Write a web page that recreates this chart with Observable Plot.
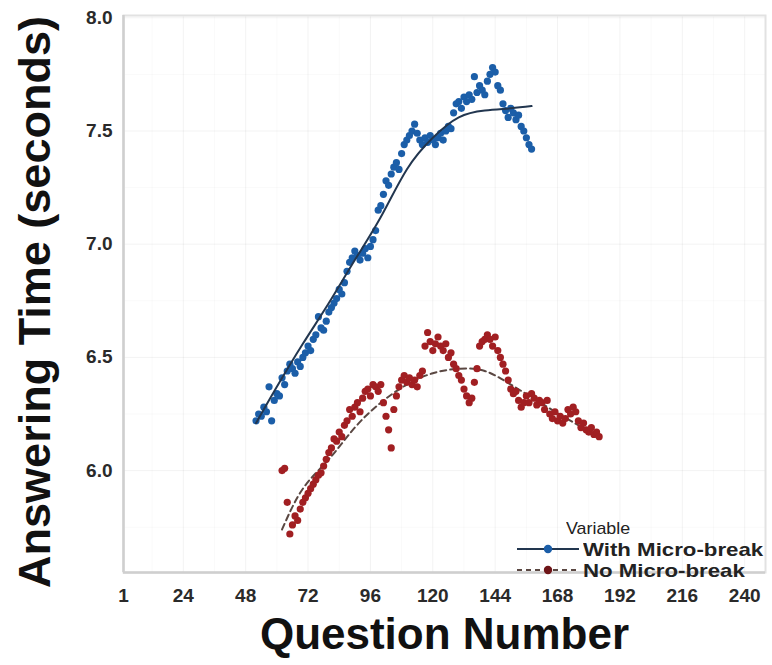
<!DOCTYPE html>
<html>
<head>
<meta charset="utf-8">
<script src="https://cdn.jsdelivr.net/npm/d3@7"></script>
<script src="https://cdn.jsdelivr.net/npm/@observablehq/plot@0.6"></script>
<style>
  body { margin: 0; background: #fff; font-family: "Liberation Sans", Arial, sans-serif; }
  #wrap { position: relative; width: 772px; height: 665px; }
  #legend { position: absolute; left: 0; top: 0; width: 772px; height: 665px; pointer-events: none; }
  #legend .t { position: absolute; color: #222; white-space: nowrap; line-height: 1; transform-origin: 0 50%; }
  #legend svg { position: absolute; overflow: visible; }
</style>
</head>
<body>
<div id="wrap">
  <div id="chart"></div>
  <div id="legend"></div>
</div>
<script>
// Mean answering time per question, first question index of each series
const seriesNames = ["With Micro-break", "No Micro-break"];
const seriesColors = ["#1b5ea8", "#a11f22"];
const fitColors = ["#22364f", "#5a4742"];

const withBreakStart = 52;
const withBreak = [
  6.22, 6.25, 6.24, 6.28, 6.26, 6.37, 6.22, 6.31, 6.34, 6.33,
  6.41, 6.38, 6.44, 6.47, 6.45, 6.43, 6.48, 6.46, 6.50, 6.52,
  6.55, 6.53, 6.58, 6.60, 6.68, 6.63, 6.62, 6.66, 6.70, 6.72,
  6.74, 6.76, 6.80, 6.78, 6.83, 6.88, 6.92, 6.94, 6.97, 6.95,
  6.93, 6.96, 6.98, 6.94, 6.99, 7.02, 7.06, 7.15, 7.17, 7.22,
  7.28, 7.26, 7.31, 7.34, 7.36, 7.33, 7.40, 7.44, 7.46, 7.48,
  7.50, 7.53, 7.49, 7.46, 7.44, 7.47, 7.45, 7.48, 7.46, 7.44,
  7.47, 7.49, 7.46, 7.50, 7.52, 7.51, 7.58, 7.62, 7.63, 7.60,
  7.65, 7.63, 7.66, 7.64, 7.74, 7.67, 7.70, 7.68, 7.66, 7.72,
  7.75, 7.78, 7.76, 7.70, 7.68, 7.62, 7.59, 7.56, 7.60, 7.58,
  7.55, 7.57, 7.52, 7.50, 7.47, 7.44, 7.42
];

const noBreakStart = 62;
const noBreak = [
  6.00, 6.01, 5.86, 5.72, 5.76, 5.80, 5.78, 5.83, 5.86, 5.88,
  5.90, 5.92, 5.94, 5.96, 5.98, 5.99, 6.02, 6.05, 6.08, 6.10,
  6.14, 6.13, 6.17, 6.15, 6.20, 6.22, 6.27, 6.24, 6.28, 6.30,
  6.26, 6.32, 6.35, 6.36, 6.33, 6.38, 6.37, 6.35, 6.38, 6.30,
  6.24, 6.18, 6.10, 6.27, 6.33, 6.37, 6.40, 6.42, 6.39, 6.41,
  6.38, 6.40, 6.37, 6.42, 6.44, 6.55, 6.61, 6.57, 6.53, 6.56,
  6.59, 6.55, 6.53, 6.56, 6.50, 6.52, 6.47, 6.45, 6.42, 6.40,
  6.36, 6.33, 6.30, 6.32, 6.39, 6.45, 6.55, 6.57, 6.58, 6.60,
  6.58, 6.55, 6.59, 6.53, 6.50, 6.47, 6.44, 6.40, 6.36, 6.34,
  6.35, 6.31, 6.28, 6.30, 6.33, 6.30, 6.34, 6.32, 6.29, 6.31,
  6.30, 6.27, 6.31, 6.25, 6.23, 6.26, 6.22, 6.24, 6.21, 6.23,
  6.27, 6.25, 6.28, 6.26, 6.22, 6.19, 6.21, 6.18, 6.17, 6.19,
  6.16, 6.17, 6.15
];

// Smoothed trend for each series
const withFitQ = [52, 60, 70, 80, 90, 100, 110, 120, 130, 140, 150, 158];
const withFitV = [6.21, 6.37, 6.56, 6.74, 6.93, 7.12, 7.33, 7.47, 7.56, 7.59, 7.60, 7.61];
const noFitQ = [62, 70, 80, 90, 100, 110, 120, 130, 140, 150, 160, 170, 184];
const noFitV = [5.74, 5.92, 6.05, 6.19, 6.30, 6.38, 6.43, 6.45, 6.44, 6.38, 6.31, 6.24, 6.15];

const xTicks = [1, 24, 48, 72, 96, 120, 144, 168, 192, 216, 240];
const xMinor = [12, 36, 60, 84, 108, 132, 156, 180, 204, 228];
const yTicks = [6.0, 6.5, 7.0, 7.5, 8.0];
const yMinor = [5.75, 6.25, 6.75, 7.25, 7.75];

const xDomain = [1, 248];
const yDomain = [5.55, 8.01];

const withPts = withBreak.map((v, i) => ({q: withBreakStart + i, v}));
const noPts = noBreak.map((v, i) => ({q: noBreakStart + i, v}));
const withFit = withFitQ.map((q, i) => ({q, v: withFitV[i]}));
const noFit = noFitQ.map((q, i) => ({q, v: noFitV[i]}));

const font = "Liberation Sans, Arial, sans-serif";

const chart = Plot.plot({
  width: 772,
  height: 665,
  marginLeft: 123,
  marginRight: 7,
  marginTop: 15,
  marginBottom: 93,
  style: {fontFamily: font, background: "#fff", color: "#333"},
  x: {domain: xDomain},
  y: {domain: yDomain},
  marks: [
    Plot.gridX(xMinor, {stroke: "#000", strokeOpacity: 0.025}),
    Plot.gridY(yMinor, {stroke: "#000", strokeOpacity: 0.025}),
    Plot.gridX(xTicks, {stroke: "#000", strokeOpacity: 0.05}),
    Plot.gridY(yTicks, {stroke: "#000", strokeOpacity: 0.05}),
    Plot.frame({stroke: "#e2e2e2", strokeWidth: 2}),
    Plot.ruleX([xDomain[0]], {stroke: "#cfcfcf", strokeWidth: 2.5}),
    Plot.ruleY([yDomain[0]], {stroke: "#cfcfcf", strokeWidth: 2.5}),
    Plot.axisX(xTicks, {tickSize: 0, tickPadding: 16, fontSize: 19, fontWeight: "bold", fill: "#2a2a2a", label: null}),
    Plot.axisY(yTicks, {tickSize: 0, tickPadding: 11, fontSize: 19, fontWeight: "bold", fill: "#2a2a2a", label: null, tickFormat: d3.format(".1f")}),
    Plot.line(noFit, {x: "q", y: "v", stroke: fitColors[1], strokeWidth: 2, strokeDasharray: "6,4", curve: "natural"}),
    Plot.dot(noPts, {x: "q", y: "v", fill: seriesColors[1], r: 3.6}),
    Plot.dot(withPts, {x: "q", y: "v", fill: seriesColors[0], r: 3.6}),
    Plot.line(withFit, {x: "q", y: "v", stroke: fitColors[0], strokeWidth: 2, curve: "natural"}),
    Plot.text(["Question Number"], {text: d => d, frameAnchor: "bottom", dy: 62, lineAnchor: "middle", textAnchor: "middle", fontSize: 44, fontWeight: "bold", fill: "#111"}),
    Plot.text(["Answering Time (seconds)"], {text: d => d, frameAnchor: "left", rotate: -90, dx: -88, dy: 8, lineAnchor: "middle", textAnchor: "middle", fontSize: 45, fontWeight: "bold", fill: "#111"})
  ]
});
document.getElementById("chart").appendChild(chart);

// Legend drawn over the lower right corner of the plot
const legend = document.getElementById("legend");
function addText(txt, left, cy, size, weight, stretch) {
  const el = document.createElement("div");
  el.className = "t";
  el.textContent = txt;
  el.style.left = left + "px";
  el.style.top = (cy - size / 2) + "px";
  el.style.fontSize = size + "px";
  el.style.fontWeight = weight;
  el.style.transform = `scaleX(${stretch})`;
  legend.appendChild(el);
}
function addSwatch(left, cy, stroke, fill, dash) {
  const ns = "http://www.w3.org/2000/svg";
  const svg = document.createElementNS(ns, "svg");
  svg.setAttribute("width", 62);
  svg.setAttribute("height", 12);
  svg.style.left = left + "px";
  svg.style.top = (cy - 6) + "px";
  const line = document.createElementNS(ns, "line");
  line.setAttribute("x1", 0); line.setAttribute("x2", 62);
  line.setAttribute("y1", 6); line.setAttribute("y2", 6);
  line.setAttribute("stroke", stroke);
  line.setAttribute("stroke-width", 2.2);
  if (dash) line.setAttribute("stroke-dasharray", dash);
  const c = document.createElementNS(ns, "circle");
  c.setAttribute("cx", 31); c.setAttribute("cy", 6); c.setAttribute("r", 4.2);
  c.setAttribute("fill", fill);
  svg.appendChild(line); svg.appendChild(c);
  legend.appendChild(svg);
}
addText("Variable", 566, 528, 17, "normal", 1.05);
addSwatch(517, 549, fitColors[0], seriesColors[0], null);
addText(seriesNames[0], 583, 549, 19, "bold", 1.17);
addSwatch(517, 570, fitColors[1], "#6e1518", "5,4");
addText(seriesNames[1], 583, 570, 19, "bold", 1.17);
</script>
</body>
</html>
